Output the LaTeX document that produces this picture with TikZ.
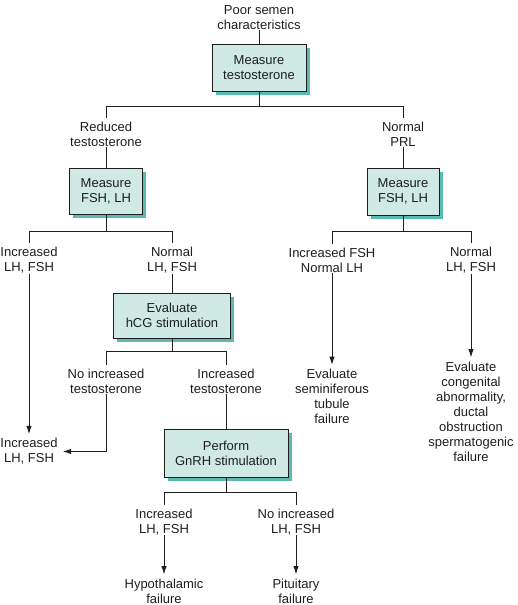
\documentclass[tikz,border=0pt]{standalone}
\usepackage{fontspec}
\setmainfont{Liberation Sans}
\usetikzlibrary{shadows,arrows.meta,calc}
\definecolor{boxfill}{HTML}{CFE9E5}
\definecolor{shadowc}{HTML}{5CBAB3}
\definecolor{linec}{HTML}{1E1E1E}
\begin{document}
\begin{tikzpicture}[x=1pt,y=-1pt,
  every node/.style={font=\fontsize{13pt}{15pt}\selectfont, text=linec},
  lbl/.style={align=center, inner sep=0pt},
  box/.style={draw=linec, line width=1pt, fill=boxfill, align=center, inner sep=0pt,
    drop shadow={shadow xshift=3.5pt, shadow yshift=-3.5pt, fill=shadowc, opacity=1}},
  conn/.style={draw=linec, line width=1pt},
  arr/.style={conn, -{Latex[length=8.5pt,width=5.5pt]}, shorten >=4pt},
  inn/.style={shorten >=4pt}]
\useasboundingbox (0,0) rectangle (517,605);

% boxes
\node[box, minimum width=94pt, minimum height=47pt] (b1) at (259,67.5) {Measure\\testosterone};
\node[box, minimum width=73pt, minimum height=46pt] (b2) at (106,191) {Measure\\FSH, LH};
\node[box, minimum width=72pt, minimum height=47pt] (b3) at (403,191.5) {Measure\\FSH, LH};
\node[box, minimum width=117pt, minimum height=45pt] (b4) at (172,315.5) {Evaluate\\hCG stimulation};
\node[box, minimum width=124pt, minimum height=48pt] (b5) at (226,453) {Perform\\GnRH stimulation};

% labels
\node[lbl] (ps) at (259,18) {Poor semen\\characteristics};
\node[lbl] (rt) at (106,134.5) {Reduced\\testosterone};
\node[lbl] (prl) at (403,134.5) {Normal\\PRL};
\node[lbl] (ilh1) at (29,260.5) {Increased\\LH, FSH};
\node[lbl] (nlh1) at (172,260.5) {Normal\\LH, FSH};
\node[lbl] (ifsh) at (332,260.5) {Increased FSH\\Normal LH};
\node[lbl] (nlh2) at (471,260.5) {Normal\\LH, FSH};
\node[lbl] (nit) at (106,381.5) {No increased\\testosterone};
\node[lbl] (it) at (226,381.5) {Increased\\testosterone};
\node[lbl] (ilh2) at (29,451.5) {Increased\\LH, FSH};
\node[lbl] (ilh3) at (164,522) {Increased\\LH, FSH};
\node[lbl] (nilh) at (296,522) {No increased\\LH, FSH};
\node[lbl] (hyp) at (164,591) {Hypothalamic\\failure};
\node[lbl] (pit) at (296,591) {Pituitary\\failure};
\node[lbl] (sem) at (332,396.5) {Evaluate\\seminiferous\\tubule\\failure};
\node[lbl] (cong) at (471,411.5) {Evaluate\\congenital\\abnormality,\\ductal\\obstruction\\spermatogenic\\failure};

% junctions
\coordinate (j1) at (259,106);
\coordinate (j2) at (106,231);
\coordinate (j5) at (403,231);
\coordinate (j3) at (172,351);
\coordinate (j4) at (226,492);

% connectors
\draw[conn] (ps) -- (b1);
\draw[conn] (b1) -- (j1);
\draw[conn, inn] (j1) -| (rt.north);
\draw[conn, inn] (j1) -| (prl.north);
\draw[conn] (rt) -- (b2);
\draw[conn] (prl) -- (b3);
\draw[conn] (b2) -- (j2);
\draw[conn, inn] (j2) -| (ilh1.north);
\draw[conn, inn] (j2) -| (nlh1.north);
\draw[conn] (b3) -- (j5);
\draw[conn, inn] (j5) -| (ifsh.north);
\draw[conn, inn] (j5) -| (nlh2.north);
\draw[conn] (nlh1) -- (b4);
\draw[conn] (b4) -- (j3);
\draw[conn, inn] (j3) -| (nit.north);
\draw[conn, inn] (j3) -| (it.north);
\draw[conn] (it) -- (b5);
\draw[conn] (b5) -- (j4);
\draw[conn, inn] (j4) -| (ilh3.north);
\draw[conn, inn] (j4) -| (nilh.north);

\draw[arr] (ilh1) -- (ilh2);
\draw[arr, shorten >=0pt] (nit.south) |- ([xshift=5pt]ilh2.east);
\draw[arr] (ifsh) -- (sem);
\draw[arr] (nlh2) -- (cong);
\draw[arr] (ilh3) -- (hyp);
\draw[arr] (nilh) -- (pit);
\end{tikzpicture}
\end{document}
